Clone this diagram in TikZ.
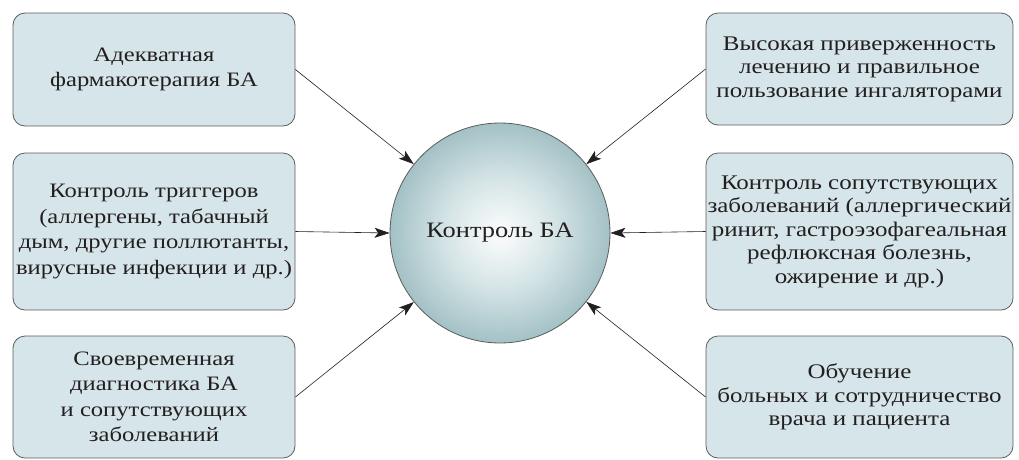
\documentclass[tikz,border=0pt]{standalone}
\usepackage{fontspec}
\setmainfont[FakeStretch=1.2]{Liberation Serif}
\usetikzlibrary{arrows.meta}
\definecolor{boxfill}{HTML}{D5E5E9}
\definecolor{boxline}{HTML}{5C5C5C}
\definecolor{txt}{HTML}{231F20}
\definecolor{ballout}{HTML}{A3C1C5}
\definecolor{ballmid}{HTML}{D3E3E5}
\definecolor{ballin}{HTML}{F6F9FA}
\pgfdeclareradialshading{ballshade}{\pgfpoint{0bp}{0bp}}{%
  color(0bp)=(ballin); color(2bp)=(ballin); color(13bp)=(ballmid); color(25bp)=(ballout); color(50bp)=(ballout)}
\tikzset{
  infobox/.style={draw=boxline, line width=0.8pt, fill=boxfill, rounded corners=12pt,
    align=center, text=txt, inner sep=0pt},
  lbox/.style={infobox, minimum width=282pt, font=\fontsize{20.5}{25.5}\selectfont},
  rbox/.style={infobox, minimum width=307pt, font=\fontsize{20.8}{23.5}\selectfont},
  ball/.style={circle, draw=boxline, line width=0.8pt, shading=ballshade,
    minimum size=220pt, text=txt, font=\fontsize{22}{26}\selectfont},
  conn/.style={draw=txt, line width=0.6pt, -{Stealth[length=15pt,width=10pt,inset=3.5pt]}}
}
\begin{document}
\begin{tikzpicture}[x=1pt,y=-1pt]
\useasboundingbox (0,0) rectangle (1019,459);
\node[ball] (c) at (500,233) {Контроль БА};
\node[lbox, minimum height=113pt] (b1) at (154,69.5) {Адекватная\\фармакотерапия БА};
\node[lbox, minimum height=157pt] (b2) at (154,231.5) {Контроль триггеров\\(аллергены, табачный\\дым, другие поллютанты,\\вирусные инфекции и др.)};
\node[lbox, minimum height=122pt] (b3) at (154,397) {Своевременная\\диагностика БА\\и сопутствующих\\заболеваний};
\node[rbox, minimum height=112pt] (r1) at (859.5,69) {Высокая приверженность\\лечению и правильное\\пользование ингаляторами};
\node[rbox, minimum height=157pt] (r2) at (859.5,231.5) {Контроль сопутствующих\\заболеваний (аллергический\\ринит, гастроэзофагеальная\\рефлюксная болезнь,\\ожирение и др.)};
\node[rbox, minimum height=122pt] (r3) at (859.5,397) {Обучение\\больных и сотрудничество\\врача и пациента};
\draw[conn] (b1.east) -- (c);
\draw[conn] (b2.east) -- (c.west);
\draw[conn] (b3.east) -- (c);
\draw[conn] (r1.west) -- (c);
\draw[conn] (r2.west) -- (c.east);
\draw[conn] (r3.west) -- (c);
\end{tikzpicture}
\end{document}
